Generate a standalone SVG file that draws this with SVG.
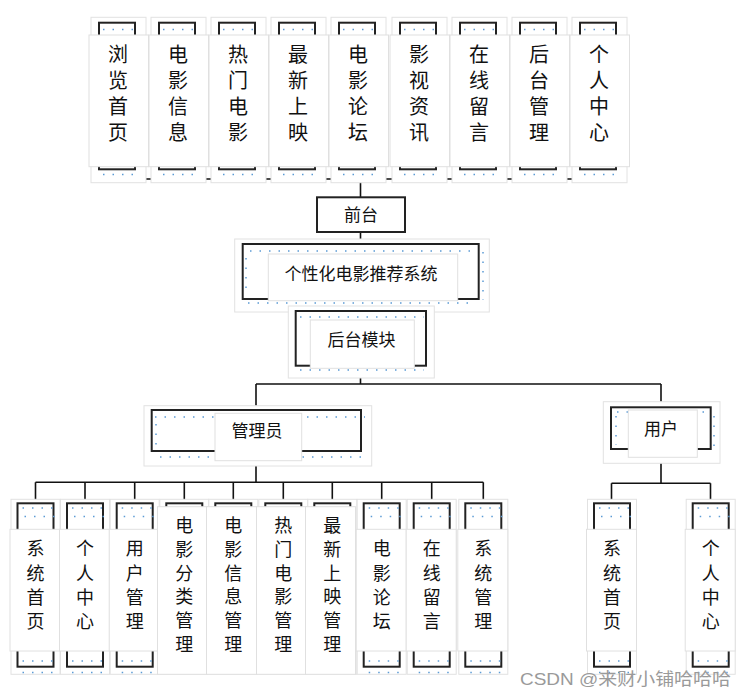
<svg xmlns="http://www.w3.org/2000/svg" xmlns:xlink="http://www.w3.org/1999/xlink" width="746" height="698" viewBox="0 0 746 698">
<style>
.g{fill:#fff;stroke:#e2e2e2;stroke-width:1}
.b{fill:#fff;stroke:#222;stroke-width:2}
.w{fill:#fff;stroke:#e0e0e0;stroke-width:1}
.d{fill:none;stroke:#5b9bd5;stroke-width:1.5;stroke-dasharray:1.5 8}
.c{fill:none;stroke:#111;stroke-width:1.6}
.t{font-family:"Noto Sans CJK SC","Noto Sans",sans-serif;fill:#111;text-anchor:middle}
.v20{font-size:20px;writing-mode:vertical-rl;text-orientation:upright;letter-spacing:6px}
.v18{font-size:18px;writing-mode:vertical-rl;text-orientation:upright;letter-spacing:6.2px}
.v18b{font-size:18px;writing-mode:vertical-rl;text-orientation:upright;letter-spacing:5.8px}
.h17{font-size:17px}
.wm{font-family:"Liberation Sans","Noto Sans CJK SC",sans-serif;font-size:17px;fill:#9a9a9a}
</style>
<defs>
<g id="tf">
<rect class="g" x="-26" y="17.3" width="55" height="165.4"/>
<rect class="b" x="-18" y="22.7" width="36" height="146.6"/>
<line class="d" x1="-14" y1="29.5" x2="18" y2="29.5"/>
<line class="d" x1="-14" y1="174.5" x2="24" y2="174.5"/>
<rect class="w" x="-28" y="35" width="59.5" height="131.7"/>
</g>
<g id="bf">
<rect class="g" x="-24.5" y="499.3" width="49" height="175"/>
<rect class="b" x="-18" y="503.3" width="36" height="163.4"/>
<line class="d" x1="-13" y1="508" x2="20" y2="508"/>
<line class="d" x1="-11" y1="516.5" x2="22" y2="516.5"/>
<line class="d" x1="-13" y1="672.5" x2="20" y2="672.5"/>
<line class="d" x1="-13" y1="661" x2="22" y2="661"/>
<rect class="w" x="-25.5" y="529.3" width="50" height="121.7"/>
</g>
<g id="bf6">
<rect class="g" x="-24.5" y="499.3" width="49" height="175"/>
<rect class="b" x="-18" y="503.3" width="36" height="163.4"/>
<rect class="w" x="-26.8" y="506.7" width="50" height="167.6"/>
</g>
</defs>

<g id="connectors">
<path class="c" d="M117 169.3V179M177 169.3V179M237 169.3V179M297 169.3V179M357 169.3V179M418 169.3V179M478 169.3V179M538 169.3V179M598 169.3V179M117 179H598M360.5 179V197M360.5 232V244M360.5 299V311M360.5 366V384M256 384H661M256 384V410M661 384V407.3M256 460.7V482.3M35.5 482.3H483.3M35.5 482.3V503.3M85 482.3V503.3M134.7 482.3V503.3M184.3 482.3V503.3M233.3 482.3V503.3M283.3 482.3V503.3M332.3 482.3V503.3M381.7 482.3V503.3M431.7 482.3V503.3M483.3 482.3V503.3M661 457.3V483.3M611.5 483.3H710.5M611.5 483.3V503.3M710.5 483.3V503.3"/>
</g>

<g id="n-liulan"><use xlink:href="#tf" x="117"/><text class="t v20" x="118" y="96">浏览首页</text></g>
<g id="n-dyxx"><use xlink:href="#tf" x="177"/><text class="t v20" x="178" y="96">电影信息</text></g>
<g id="n-rmdy"><use xlink:href="#tf" x="237"/><text class="t v20" x="238" y="96">热门电影</text></g>
<g id="n-zxsy"><use xlink:href="#tf" x="297"/><text class="t v20" x="298" y="96">最新上映</text></g>
<g id="n-dylt"><use xlink:href="#tf" x="357"/><text class="t v20" x="358" y="96">电影论坛</text></g>
<g id="n-ysxx"><use xlink:href="#tf" x="418"/><text class="t v20" x="419" y="96">影视资讯</text></g>
<g id="n-zxly"><use xlink:href="#tf" x="478"/><text class="t v20" x="479" y="96">在线留言</text></g>
<g id="n-htgl"><use xlink:href="#tf" x="538"/><text class="t v20" x="539" y="96">后台管理</text></g>
<g id="n-grzx"><use xlink:href="#tf" x="598"/><text class="t v20" x="599" y="96">个人中心</text></g>

<g id="n-qiantai">
<rect class="b" x="317" y="197.3" width="88" height="34.7"/>
<text class="t h17" x="361" y="220.5">前台</text>
</g>

<g id="n-system">
<rect class="g" x="234.7" y="239" width="254.6" height="73"/>
<rect class="b" x="242.7" y="244" width="236" height="55"/>
<line class="d" x1="250" y1="251" x2="476" y2="251"/>
<line class="d" x1="248" y1="303" x2="476" y2="303"/>
<line class="d" x1="246" y1="258" x2="246" y2="296"/>
<line class="d" x1="483" y1="252" x2="483" y2="300"/>
<rect class="w" x="268.3" y="254" width="189.4" height="46.7"/>
<text class="t h17" x="361" y="280">个性化电影推荐系统</text>
</g>

<g id="n-houtai">
<rect class="g" x="288.3" y="306" width="146" height="72"/>
<rect class="b" x="295.7" y="311" width="130.3" height="54.7"/>
<line class="d" x1="300" y1="317" x2="424" y2="317"/>
<line class="d" x1="300" y1="370" x2="424" y2="370"/>
<rect class="w" x="310.3" y="320" width="104" height="48.3"/>
<text class="t h17" x="361.5" y="346">后台模块</text>
</g>

<g id="n-admin">
<rect class="g" x="144" y="405.7" width="227.7" height="60.3"/>
<rect class="b" x="151.7" y="410" width="209.3" height="41"/>
<line class="d" x1="155" y1="417" x2="365" y2="417"/>
<line class="d" x1="160" y1="457" x2="362" y2="457"/>
<line class="d" x1="156" y1="424" x2="156" y2="446"/>
<rect class="w" x="215" y="413.3" width="86.7" height="47.4"/>
<text class="t h17" x="257" y="436.5">管理员</text>
</g>

<g id="n-user">
<rect class="g" x="603.3" y="401.7" width="116.7" height="61.6"/>
<rect class="b" x="611" y="407.3" width="99.7" height="41.7"/>
<line class="d" x1="617" y1="412" x2="708" y2="412"/>
<line class="d" x1="616" y1="416" x2="616" y2="445"/>
<line class="d" x1="714" y1="416" x2="714" y2="452"/>
<rect class="w" x="628.3" y="410" width="69" height="47.3"/>
<text class="t h17" x="661" y="434.5">用户</text>
</g>

<g id="n-a-xtsy"><use xlink:href="#bf" x="35.5"/><text class="t v18" x="35.5" y="588">系统首页</text></g>
<g id="n-a-grzx"><use xlink:href="#bf" x="85"/><text class="t v18" x="85" y="588">个人中心</text></g>
<g id="n-a-yhgl"><use xlink:href="#bf" x="134.7"/><text class="t v18" x="134.7" y="588">用户管理</text></g>
<g id="n-a-dyfl"><use xlink:href="#bf6" x="184.3"/><text class="t v18b" x="184.3" y="587.5">电影分类管理</text></g>
<g id="n-a-dyxx"><use xlink:href="#bf6" x="233.3"/><text class="t v18b" x="233.3" y="587.5">电影信息管理</text></g>
<g id="n-a-rmdy"><use xlink:href="#bf6" x="283.3"/><text class="t v18b" x="283.3" y="587.5">热门电影管理</text></g>
<g id="n-a-zxsy"><use xlink:href="#bf6" x="332.3"/><text class="t v18b" x="332.3" y="587.5">最新上映管理</text></g>
<g id="n-a-dylt"><use xlink:href="#bf" x="381.7"/><text class="t v18" x="381.7" y="588">电影论坛</text></g>
<g id="n-a-zxly"><use xlink:href="#bf" x="431.7"/><text class="t v18" x="431.7" y="588">在线留言</text></g>
<g id="n-a-xtgl"><use xlink:href="#bf" x="483.3"/><text class="t v18" x="483.3" y="588">系统管理</text></g>

<g id="n-u-xtsy"><use xlink:href="#bf" x="612"/><text class="t v18" x="612" y="588">系统首页</text></g>
<g id="n-u-grzx"><use xlink:href="#bf" x="710.7"/><text class="t v18" x="710.7" y="588">个人中心</text></g>

<text class="wm" x="520" y="685" textLength="211" lengthAdjust="spacingAndGlyphs">CSDN @来财小铺哈哈哈</text>
</svg>
